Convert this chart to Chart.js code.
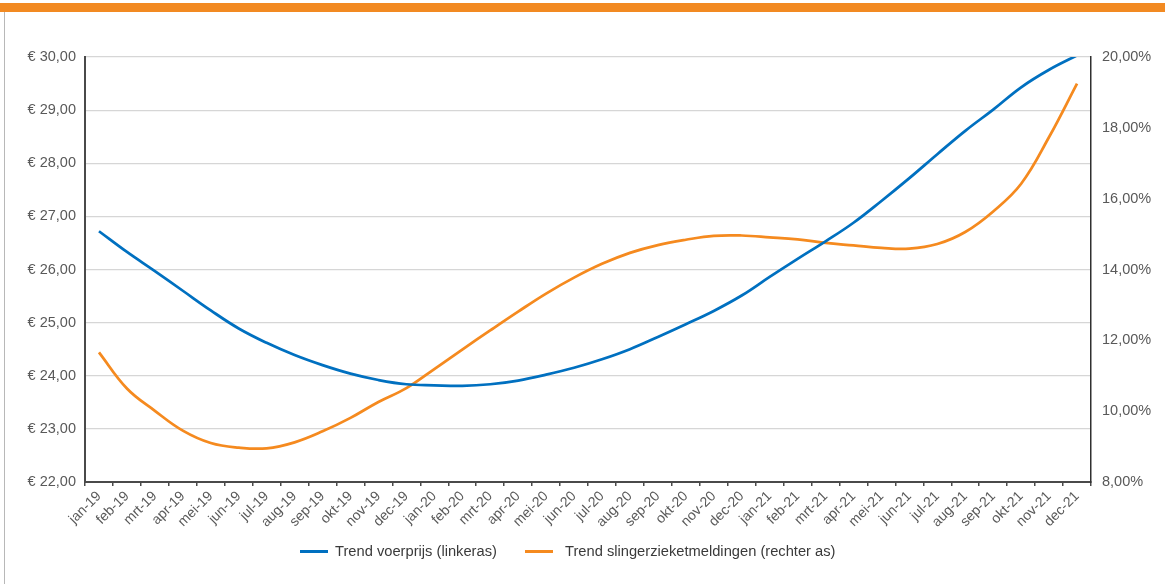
<!DOCTYPE html>
<html>
<head>
<meta charset="utf-8">
<script src="https://cdn.jsdelivr.net/npm/chart.js@4"></script>
<style>
  html, body { margin: 0; padding: 0; background: #ffffff; }
  #wrap { position: relative; width: 1165px; height: 584px; overflow: hidden; }
  #topbar { position: absolute; left: 0; top: 3px; width: 1165px; height: 9px; background: #f28a22; }
  #edge { position: absolute; left: 4px; top: 12px; width: 1px; height: 572px; background: #b8b8b8; }
  canvas { position: absolute; left: 0; top: 0; }
</style>
</head>
<body>
<div id="wrap">
  <div id="topbar"></div>
  <div id="edge"></div>
  <canvas id="c" width="1165" height="584"></canvas>
</div>
<script>
// Months, Jan 2019 - Dec 2021
const months = [
  'jan-19','feb-19','mrt-19','apr-19','mei-19','jun-19','jul-19','aug-19','sep-19','okt-19','nov-19','dec-19',
  'jan-20','feb-20','mrt-20','apr-20','mei-20','jun-20','jul-20','aug-20','sep-20','okt-20','nov-20','dec-20',
  'jan-21','feb-21','mrt-21','apr-21','mei-21','jun-21','jul-21','aug-21','sep-21','okt-21','nov-21','dec-21'
];

// Trend feed price (euro, left axis)
const voerprijs = [
  26.72, 26.33, 25.97, 25.60, 25.23, 24.89, 24.62, 24.39, 24.20, 24.04, 23.92, 23.84,
  23.82, 23.81, 23.84, 23.91, 24.02, 24.15, 24.31, 24.50, 24.73, 24.97, 25.22, 25.51,
  25.86, 26.20, 26.53, 26.88, 27.29, 27.72, 28.17, 28.61, 29.01, 29.43, 29.76, 30.03
];

// Trend share of abomasal displacement reports (percent, right axis)
const slingerziekte = [
  11.66, 10.64, 10.01, 9.45, 9.10, 8.97, 8.95, 9.12, 9.43, 9.81, 10.26, 10.65,
  11.19, 11.74, 12.28, 12.81, 13.32, 13.77, 14.16, 14.47, 14.69, 14.84, 14.95, 14.96,
  14.91, 14.85, 14.75, 14.68, 14.61, 14.59, 14.72, 15.06, 15.64, 16.42, 17.74, 19.25
];

const seriesNames = ['Trend voerprijs (linkeras)', 'Trend slingerzieketmeldingen (rechter as)'];
const seriesColors = ['#0070c0', '#f58a1f'];

const euroFmt = v => '€ ' + v.toFixed(2).replace('.', ',');
const pctFmt = v => v.toFixed(2).replace('.', ',') + '%';

const FONT = '"Liberation Sans", Arial, sans-serif';
const TICK_COLOR = '#595959';
const AXIS_COLOR = '#4a4a4a';

// Legend drawn below the axis labels
const bottomLegend = {
  id: 'bottomLegend',
  afterDraw(chart) {
    const ctx = chart.ctx;
    const y = 551.5;
    const items = [
      { x: 300, textX: 335 },
      { x: 525, textX: 565 }
    ];
    ctx.save();
    ctx.font = '14.7px ' + FONT;
    ctx.textBaseline = 'middle';
    ctx.lineCap = 'butt';
    chart.data.datasets.forEach((ds, i) => {
      const it = items[i];
      ctx.strokeStyle = ds.borderColor;
      ctx.lineWidth = 3;
      ctx.beginPath();
      ctx.moveTo(it.x, y);
      ctx.lineTo(it.x + 28, y);
      ctx.stroke();
      ctx.fillStyle = '#3a3a3a';
      ctx.fillText(ds.label, it.textX, y);
    });
    ctx.restore();
  }
};

new Chart(document.getElementById('c'), {
  type: 'line',
  data: {
    labels: months,
    datasets: [
      {
        label: seriesNames[0],
        data: voerprijs,
        yAxisID: 'y',
        borderColor: seriesColors[0],
        backgroundColor: seriesColors[0],
        borderWidth: 2.75,
        pointRadius: 0,
        tension: 0.4,
        fill: false
      },
      {
        label: seriesNames[1],
        data: slingerziekte,
        yAxisID: 'y2',
        borderColor: seriesColors[1],
        backgroundColor: seriesColors[1],
        borderWidth: 2.75,
        pointRadius: 0,
        tension: 0.4,
        fill: false
      }
    ]
  },
  options: {
    responsive: false,
    animation: false,
    layout: { padding: { top: 57, left: 0, right: 0, bottom: 0 } },
    plugins: {
      legend: { display: false },
      tooltip: { enabled: false }
    },
    scales: {
      x: {
        offset: true,
        grid: {
          offset: true,
          drawOnChartArea: false,
          drawTicks: true,
          tickLength: 4,
          color: AXIS_COLOR,
          lineWidth: 1.5
        },
        border: { display: true, color: AXIS_COLOR, width: 2 },
        ticks: {
          autoSkip: false,
          maxRotation: 45,
          minRotation: 45,
          padding: 2,
          color: TICK_COLOR,
          font: { family: FONT, size: 14 }
        },
        afterFit(s) { s.height = 584 - 482; }
      },
      y: {
        position: 'left',
        min: 22,
        max: 30,
        grid: {
          color: '#d6d6d6',
          lineWidth: 1.2,
          drawTicks: false
        },
        border: { display: true, color: AXIS_COLOR, width: 2 },
        ticks: {
          stepSize: 1,
          padding: 9,
          color: TICK_COLOR,
          font: { family: FONT, size: 14.5 },
          callback: v => euroFmt(v)
        },
        afterFit(s) { s.width = 85; }
      },
      y2: {
        position: 'right',
        min: 8,
        max: 20,
        grid: { drawOnChartArea: false, drawTicks: false },
        border: { display: true, color: '#303030', width: 1.5 },
        ticks: {
          stepSize: 2,
          padding: 11,
          color: TICK_COLOR,
          font: { family: FONT, size: 14.5 },
          callback: v => pctFmt(v)
        },
        afterFit(s) { s.width = 1165 - 1091; }
      }
    }
  },
  plugins: [bottomLegend]
});
</script>
</body>
</html>
